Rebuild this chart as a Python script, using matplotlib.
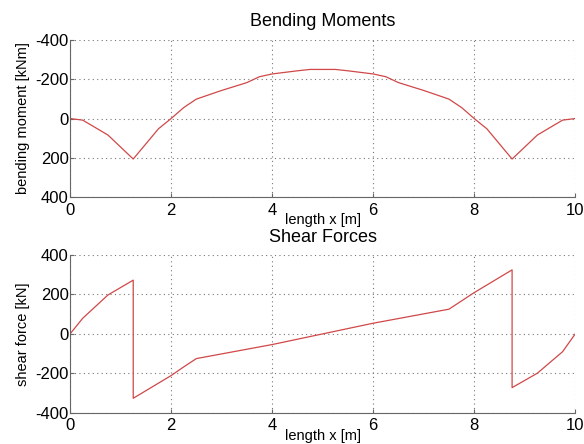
import matplotlib
matplotlib.use("Agg")
import matplotlib.pyplot as plt

plt.rcParams['font.family'] = ['Liberation Sans', 'DejaVu Sans']
plt.rcParams['axes.unicode_minus'] = False

# bending moment (kNm), positive values drawn downward
x_m = [0, 0.25, 0.75, 1.25, 1.75, 2, 2.25, 2.5, 3, 3.5, 3.75, 4, 4.5, 4.75,
       5.25, 5.5, 6, 6.25, 6.5, 7, 7.5, 7.75, 8, 8.25, 8.75, 9.25, 9.75, 10]
moment = [0, 8, 84, 206, 52, 0, -56, -99, -143, -183, -213, -227, -243, -250,
          -250, -243, -227, -213, -183, -143, -99, -56, 0, 52, 206, 84, 8, 0]

# shear force (kN)
x_v = [0, 0.25, 0.75, 1.25, 1.25, 2, 2.25, 2.5, 4, 6, 7.5, 7.75, 8,
       8.75, 8.75, 9.25, 9.75, 10]
shear = [0, 79, 197, 272, -326, -211, -167, -125, -54, 54, 125, 167, 209,
         324, -272, -199, -90, 0]

line_col = '#d04848'
fig = plt.figure(figsize=(5.84, 4.44), dpi=100)
ax1 = fig.add_axes([0.120, 0.556, 0.865, 0.354])
ax2 = fig.add_axes([0.120, 0.070, 0.865, 0.356])

ax1.plot(x_m, moment, color=line_col, lw=0.9)
ax1.set_ylim(400, -400)
ax1.set_yticks([-400, -200, 0, 200, 400])
ax1.set_title('Bending Moments', fontsize=13, pad=10)
ax1.set_ylabel('bending moment [kNm]', fontsize=10.5, labelpad=4)

ax2.plot(x_v, shear, color=line_col, lw=0.9)
ax2.set_ylim(-400, 400)
ax2.set_yticks([-400, -200, 0, 200, 400])
ax2.set_title('Shear Forces', fontsize=13, pad=9)
ax2.set_ylabel('shear force [kN]', fontsize=10.5, labelpad=4)

for ax in (ax1, ax2):
    ax.set_xlim(0, 10)
    ax.set_xticks([0, 2, 4, 6, 8, 10])
    ax.set_xlabel('length x [m]', fontsize=10.5, labelpad=-3.5)
    ax.grid(True, linestyle=(0, (1, 3)), color='#777777', lw=0.8)
    ax.spines['top'].set_visible(False)
    ax.spines['right'].set_visible(False)
    ax.spines['left'].set_color('#666666')
    ax.spines['bottom'].set_color('#666666')
    ax.tick_params(direction='in', length=3, color='#666666', labelsize=12)
    ax.tick_params(axis='y', pad=1)
    ax.tick_params(axis='x', pad=4)

fig.savefig('out.png', dpi=100)
